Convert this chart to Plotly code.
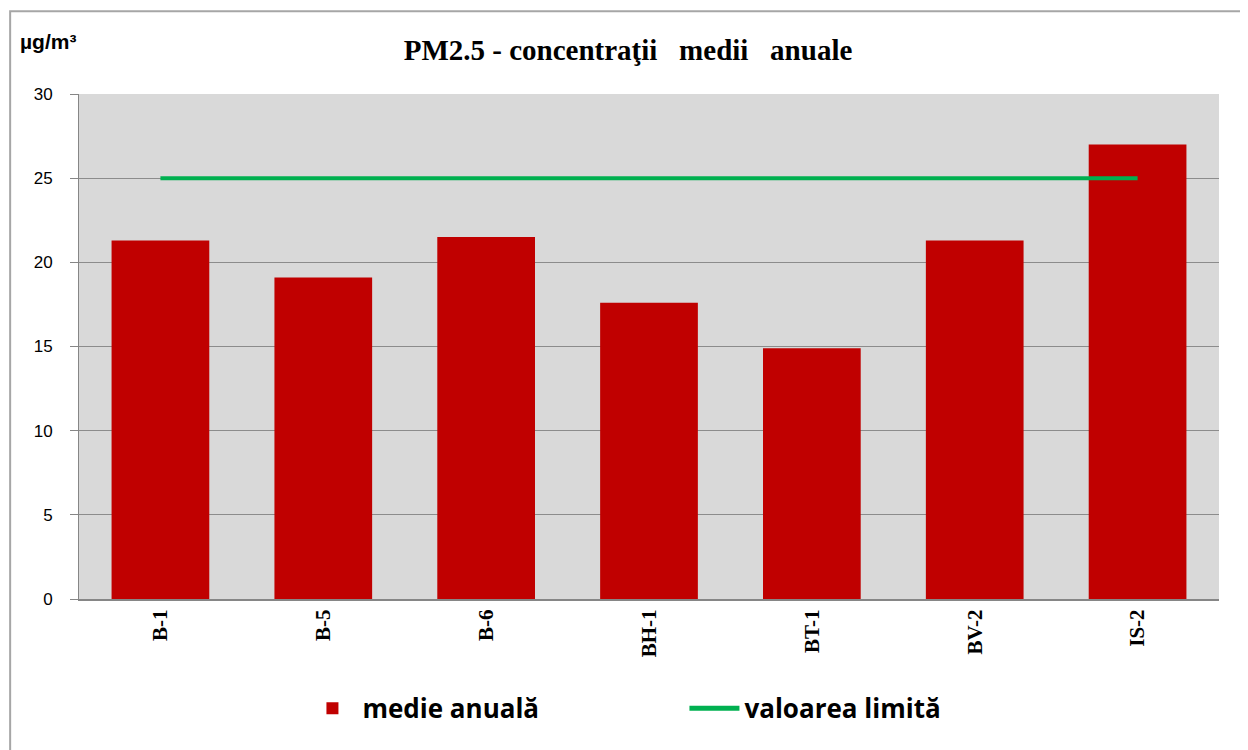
import plotly.graph_objects as go

statii = ['B-1', 'B-5', 'B-6', 'BH-1', 'BT-1', 'BV-2', 'IS-2']
medie_anuala = [21.3, 19.1, 21.5, 17.6, 14.9, 21.3, 27.0]
valoare_limita = [25, 25, 25, 25, 25, 25, 25]
y_ticks = [0, 5, 10, 15, 20, 25, 30]

fig = go.Figure()

fig.add_trace(go.Bar(
    x=statii,
    y=medie_anuala,
    name='<b>medie anuală</b>',
    marker=dict(color='#C00000', line=dict(width=0)),
))

fig.add_trace(go.Scatter(
    x=statii,
    y=valoare_limita,
    mode='lines',
    name='<b>valoarea limită</b>',
    line=dict(color='#00B050', width=4),
))

# chenarul graficului (ca in Excel)
fig.add_shape(
    type='rect', xref='paper', yref='paper',
    x0=-0.0604, x1=1.06, y0=-0.35, y1=1.164,
    line=dict(color='#A6A6A6', width=2), fillcolor='rgba(0,0,0,0)',
    layer='below',
)

fig.add_annotation(
    text='<b>µg/m³</b>', xref='paper', yref='paper',
    x=-0.0534, y=1.103, xanchor='left', yanchor='middle',
    showarrow=False, font=dict(family='Liberation Sans, Arial', size=21, color='#000000'),
)

fig.update_layout(
    title=dict(
        text='<b>PM2.5 - concentraţii   medii   anuale</b>',
        x=0.5, xanchor='center', y=0.943, yanchor='middle',
        font=dict(family='Liberation Serif, Times New Roman', size=29, color='#000000'),
    ),
    width=1240, height=742,
    margin=dict(l=71, r=29, t=86, b=151),
    plot_bgcolor='#D9D9D9',
    paper_bgcolor='#FFFFFF',
    bargap=0.4,
    showlegend=True,
    legend=dict(
        orientation='h', x=0.196, y=-0.17, xanchor='left', yanchor='top',
        font=dict(family='Open Sans, Liberation Sans', size=26, color='#000000'),
        itemwidth=50, entrywidth=317, itemsizing='constant',
        bgcolor='rgba(0,0,0,0)',
    ),
    xaxis=dict(
        tickangle=-90,
        tickvals=statii, ticktext=['<b>' + s + '</b>' for s in statii],
        tickfont=dict(family='Liberation Serif, Times New Roman', size=21, color='#000000'),
        showline=True, linecolor='#868686', linewidth=2,
        showgrid=False, ticks='', ticklabelstandoff=0,
    ),
    yaxis=dict(
        range=[0, 30], tickvals=y_ticks,
        tickfont=dict(family='Liberation Sans, Arial', size=17, color='#000000'),
        showgrid=True, gridcolor='#8C8C8C', gridwidth=1,
        showline=True, linecolor='#868686', linewidth=1,
        ticks='outside', ticklen=8, tickcolor='#868686',
        zeroline=False, ticklabelstandoff=14,
    ),
)

fig.write_html('out.html')
